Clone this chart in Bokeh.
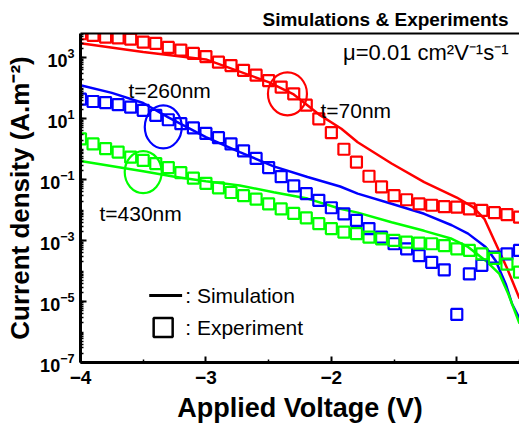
from bokeh.plotting import figure
from bokeh.models import FixedTicker, LinearAxis, Label, Range1d, LogTickFormatter
from bokeh.embed import file_html
from bokeh.resources import INLINE

# ---------------- data ----------------
v_exp = [-4.0, -3.9, -3.8, -3.7, -3.6, -3.5, -3.4, -3.3, -3.2, -3.1,
         -3.0, -2.9, -2.8, -2.7, -2.6, -2.5, -2.4, -2.3, -2.2, -2.1,
         -2.0, -1.9, -1.8, -1.7, -1.6, -1.5, -1.4, -1.3, -1.2, -1.1,
         -1.0, -0.9, -0.8, -0.7, -0.6, -0.5]

exp_70nm = [6.2e3, 5.5e3, 4.8e3, 4.5e3, 4.1e3, 3.3e3, 3.0e3, 2.2e3, 1.8e3, 1.4e3,
            1.1e3, 7.2e2, 5.6e2, 3.9e2, 2.7e2, 1.8e2, 1.1e2, 6.6e1, 2.8e1, 1.0e1,
            3.5, 1.0, 3.8e-1, 1.3e-1, 5.8e-2, 3.0e-2, 2.2e-2, 1.6e-2, 1.45e-2, 1.3e-2,
            1.26e-2, 1.1e-2, 9.8e-3, 8.3e-3, 7.2e-3, 5.9e-3]

exp_260nm = [44, 37, 34, 29, 24, 19, 13, 9.3, 6.9, 5.0,
             3.3, 2.4, 1.5, 0.89, 0.50, 0.25, 0.126, 0.063, 0.035, 0.021,
             0.012, 7.6e-3, 4.6e-3, 2.5e-3, 1.3e-3, 7.9e-4, 5.4e-4, 3.2e-4, 1.95e-4, 1.1e-4,
             3.8e-6, 8.1e-5, 1.55e-4, 2.9e-4, 3.7e-4, 4.8e-4]

exp_430nm = [2.2, 1.5, 1.05, 0.81, 0.55, 0.43, 0.34, 0.25, 0.17, 0.112,
             0.076, 0.054, 0.038, 0.030, 0.023, 0.016, 0.011, 7.8e-3, 5.6e-3, 3.6e-3,
             2.5e-3, 1.9e-3, 1.7e-3, 1.3e-3, 1.15e-3, 1.02e-3, 8.9e-4, 8.3e-4, 7.9e-4, 6.9e-4,
             5.4e-4, 4.8e-4, 3.7e-4, 2.6e-4, 1.7e-4, 9.3e-5]

v_sim_70nm = [-4.0, -3.5, -3.0, -2.5, -2.3, -2.1, -1.92, -1.79, -1.52, -1.26,
              -1.0, -0.87, -0.78, -0.7, -0.6, -0.5]
sim_70nm = [3.0e3, 1.55e3, 8.9e2, 1.6e2, 63, 14, 4.7, 1.7, 0.34, 0.083,
            0.026, 0.0126, 5.2e-3, 1.0e-3, 1.26e-4, 1.26e-5]

v_sim_260nm = [-4.0, -3.75, -3.5, -3.3, -3.0, -2.73, -2.46, -2.19, -1.93, -1.79,
               -1.52, -1.26, -1.04, -0.91, -0.77, -0.69, -0.61, -0.56, -0.5]
sim_260nm = [126, 71, 33, 11.2, 2.5, 0.81, 0.275, 0.123, 0.060, 0.035,
             0.0162, 7.6e-3, 3.2e-3, 1.7e-3, 6.2e-4, 2.2e-4, 3.8e-5, 8.5e-6, 2.8e-6]

v_sim_430nm = [-4.0, -3.5, -3.25, -3.0, -2.73, -2.46, -2.19, -1.93, -1.79, -1.52,
               -1.26, -1.04, -0.91, -0.77, -0.66, -0.59, -0.5]
sim_430nm = [0.41, 0.19, 0.126, 0.089, 0.065, 0.039, 0.024, 0.0112, 8.3e-3, 4.0e-3,
             2.1e-3, 1.15e-3, 6.2e-4, 2.2e-4, 8.1e-5, 1.8e-5, 1.9e-6]

x_ticks = [-4, -3, -2, -1]
x_minor = [-3.5, -2.5, -1.5, -0.5]
y_ticks = [1e-7, 1e-5, 1e-3, 1e-1, 1e1, 1e3]

RED, BLUE, GREEN = "#ff0000", "#0000ff", "#00ff00"
FONT = "Liberation Sans"

# ---------------- figure ----------------
p = figure(width=519, height=429, x_range=Range1d(-4, -0.5),
           y_range=Range1d(1e-7, 10 ** 3.8), y_axis_type="log",
           output_backend="svg", toolbar_location=None,
           min_border_left=80, min_border_right=0, min_border_top=33, min_border_bottom=67)
p.outline_line_color = None
p.xgrid.visible = False
p.ygrid.visible = False
p.background_fill_color = "white"
p.border_fill_color = "white"

p.title.text = "Simulations & Experiments"
p.title.align = "right"
p.title.text_font = FONT
p.title.text_font_size = "19px"
p.title.text_font_style = "bold"
p.title.text_color = "black"
p.title.offset = 11
p.title.standoff = 8

# x axis
xa = p.xaxis[0]
xa.ticker = FixedTicker(ticks=x_ticks, minor_ticks=x_minor)
xa.axis_label = "Applied Voltage (V)"
# y axis
ya = p.yaxis[0]
minor = []
for e in range(-7, 4):
    for k in range(1, 10):
        minor.append(k * 10.0 ** e)
ya.ticker = FixedTicker(ticks=y_ticks, minor_ticks=minor)
ya.formatter = LogTickFormatter()
ya.axis_label = "Current density (A.m\u207b\u00b2)"

for ax in (xa, ya):
    ax.axis_line_width = 3
    ax.axis_line_color = "black"
    ax.major_tick_in = 6
    ax.major_tick_out = 0
    ax.minor_tick_in = 3
    ax.minor_tick_out = 0
    ax.major_tick_line_width = 2
    ax.minor_tick_line_width = 1.5
    ax.major_tick_line_color = "black"
    ax.minor_tick_line_color = "black"
    ax.major_label_text_font = FONT
    ax.major_label_text_font_style = "bold"
    ax.major_label_text_color = "black"
    ax.axis_label_text_font = FONT
    ax.axis_label_text_font_style = "bold"
    ax.axis_label_text_color = "black"
xa.major_label_text_font_size = "19px"
xa.major_label_standoff = 8
xa.axis_label_text_font_size = "27px"
xa.axis_label_standoff = 6
ya.major_label_text_font_size = "18px"
ya.major_label_standoff = 6
ya.axis_label_text_font_size = "26px"
ya.axis_label_standoff = 2

top = LinearAxis(ticker=FixedTicker(ticks=[]), axis_line_width=2, axis_line_color="black",
                 major_tick_line_color=None, minor_tick_line_color=None)
p.add_layout(top, "above")

# ---------------- simulations (lines) ----------------
p.line(v_sim_70nm, sim_70nm, line_color=RED, line_width=2.5)
p.line(v_sim_260nm, sim_260nm, line_color=BLUE, line_width=2.5)
p.line(v_sim_430nm, sim_430nm, line_color=GREEN, line_width=2.5)

# ---------------- experiments (squares) ----------------
for ys, c in ((exp_70nm, RED), (exp_260nm, BLUE), (exp_430nm, GREEN)):
    p.scatter(v_exp, ys, marker="square", size=11, fill_color=None,
              line_color=c, line_width=2.2)

# ---------------- highlight circles ----------------
p.ellipse(x=[-2.35], y=[66], width=39, height=43, width_units="screen",
          height_units="screen", fill_color=None, line_color=RED, line_width=2.2)
p.ellipse(x=[-3.34], y=[5.4], width=37, height=43, width_units="screen",
          height_units="screen", fill_color=None, line_color=BLUE, line_width=2.2)
p.ellipse(x=[-3.50], y=[0.178], width=37, height=42, width_units="screen",
          height_units="screen", fill_color=None, line_color=GREEN, line_width=2.2)

# ---------------- annotations ----------------
def lab(x, y, t, align="left", size="21px"):
    p.add_layout(Label(x=x, y=y, text=t, text_align=align, text_baseline="middle",
                       text_font=FONT, text_font_size=size, text_color="black"))

lab(-3.617, 85, "t=260nm")
lab(-2.087, 18.9, "t=70nm")
lab(-3.849, 7.8e-3, "t=430nm")
lab(-0.588, 1510, "\u03bc=0.01 cm\u00b2V\u207b\u00b9s\u207b\u00b9", align="right", size="22px")

# legend
p.line([-3.452, -3.19], [1.58e-5, 1.58e-5], line_color="black", line_width=3)
p.scatter([-3.341], [1.41e-6], marker="square", size=19, fill_color=None,
          line_color="black", line_width=2.5)
lab(-3.165, 1.58e-5, ": Simulation")
lab(-3.165, 1.41e-6, ": Experiment")

open("out.html", "w").write(file_html(p, INLINE))
